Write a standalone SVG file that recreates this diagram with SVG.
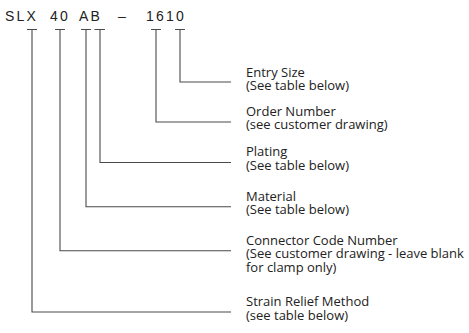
<svg xmlns="http://www.w3.org/2000/svg" width="469" height="333" viewBox="0 0 469 333">
<style>
.code{font-family:"Liberation Sans",Arial,sans-serif;font-size:14px;fill:#222;letter-spacing:2.2px}
.lbl{font-family:"Open Sans","Noto Sans",sans-serif;font-size:13px;fill:#222}
.ln{fill:none;stroke:#4a4a4a;stroke-width:1.1}
</style>
<rect width="469" height="333" fill="#fff"/>
<g id="code">
<text class="code" y="20.7"><tspan x="5">SLX</tspan><tspan x="50">40</tspan><tspan x="79">AB</tspan><tspan x="118">–</tspan><tspan x="146">1610</tspan></text>
</g>
<g id="connectors">
<path class="ln" d="M27 29.5H37M32 29.5V312H231"/>
<path class="ln" d="M55 29.5H65M60 29.5V250.7H231"/>
<path class="ln" d="M81 29.5H91M86 29.5V206.7H231"/>
<path class="ln" d="M94.5 29.5H105M100 29.5V162.5H231"/>
<path class="ln" d="M151 29.5H161M156 29.5V122H231"/>
<path class="ln" d="M175 29.5H185M180 29.5V82H231"/>
</g>
<g id="entry-size">
<text class="lbl" x="246" y="76.5">Entry Size<tspan x="246" dy="13.8">(See table below)</tspan></text>
</g>
<g id="order-number">
<text class="lbl" x="246" y="115.5">Order Number<tspan x="246" dy="13.8">(see customer drawing)</tspan></text>
</g>
<g id="plating">
<text class="lbl" x="246" y="156">Plating<tspan x="246" dy="13.8">(See table below)</tspan></text>
</g>
<g id="material">
<text class="lbl" x="246" y="200.5">Material<tspan x="246" dy="13.8">(See table below)</tspan></text>
</g>
<g id="connector-code">
<text class="lbl" x="246" y="244.5">Connector Code Number<tspan x="246" dy="13.8">(See customer drawing - leave blank</tspan><tspan x="246" dy="13.8">for clamp only)</tspan></text>
</g>
<g id="strain-relief">
<text class="lbl" x="246" y="306">Strain Relief Method<tspan x="246" dy="13.8">(see table below)</tspan></text>
</g>
</svg>
